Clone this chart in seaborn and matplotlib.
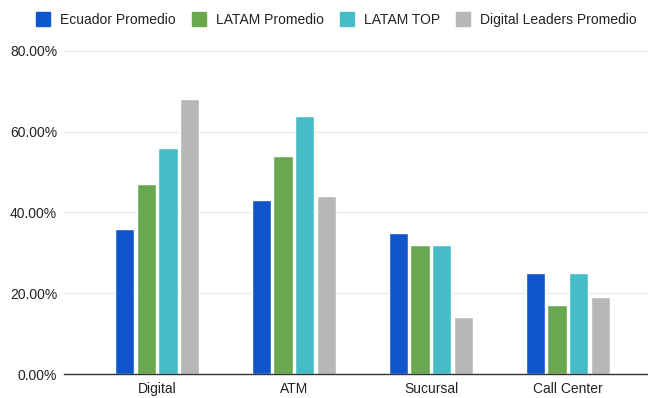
import matplotlib
matplotlib.use("Agg")
import matplotlib.pyplot as plt
import seaborn as sns
import pandas as pd
from matplotlib.lines import Line2D
from matplotlib.ticker import FuncFormatter

categories = ["Digital", "ATM", "Sucursal", "Call Center"]
series_names = ["Ecuador Promedio", "LATAM Promedio", "LATAM TOP", "Digital Leaders Promedio"]
ecuador = [36, 43, 35, 25]
latam = [47, 54, 32, 17]
latam_top = [56, 64, 32, 25]
leaders = [68, 44, 14, 19]
y_ticks = [0, 20, 40, 60, 80]

colors = ["#1155cc", "#6aa84f", "#46bdc6", "#b7b7b7"]

rows = []
for name, vals in zip(series_names, [ecuador, latam, latam_top, leaders]):
    for cat, v in zip(categories, vals):
        rows.append({"canal": cat, "serie": name, "valor": v})
df = pd.DataFrame(rows)

sns.set_theme(style="white")
plt.rcParams["font.family"] = ["Liberation Sans", "DejaVu Sans"]

fig = plt.figure(figsize=(6.48, 3.98), dpi=100)
W, H = 648, 398
ax = fig.add_axes([64 / W, 24 / H, (647 - 64) / W, 323 / H])

sns.barplot(data=df, x="canal", y="valor", hue="serie", order=categories,
            hue_order=series_names, palette=colors, width=0.63, gap=0.1,
            saturation=1, legend=False, ax=ax)

ax.set_ylim(0, 80)
ax.set_xlim(-0.679, 3.577)
ax.set_yticks(y_ticks)
ax.yaxis.set_major_formatter(FuncFormatter(lambda v, p: f"{v:.2f}%"))
ax.grid(axis="y", color="#ebebeb", linewidth=1)
ax.set_axisbelow(True)
for s in ["top", "right", "left"]:
    ax.spines[s].set_visible(False)
ax.spines["bottom"].set_color("#333333")
ax.spines["bottom"].set_linewidth(1)
ax.set_xlabel("")
ax.set_ylabel("")
ax.tick_params(axis="both", length=0, labelsize=10, colors="#222222")
ax.tick_params(axis="x", pad=6)
ax.tick_params(axis="y", pad=5)

handles = [Line2D([], [], marker="s", linestyle="none", markersize=10,
                  markerfacecolor=c, markeredgecolor=c) for c in colors]
fig.legend(handles, series_names, loc="center left",
           bbox_to_anchor=(36 / W, 1 - 20 / H), ncol=4, frameon=False,
           fontsize=10, handletextpad=0.7, columnspacing=1.2,
           labelcolor="#222222", borderaxespad=0, borderpad=0,
           handlelength=1.0)

fig.savefig("out.png", dpi=100)
